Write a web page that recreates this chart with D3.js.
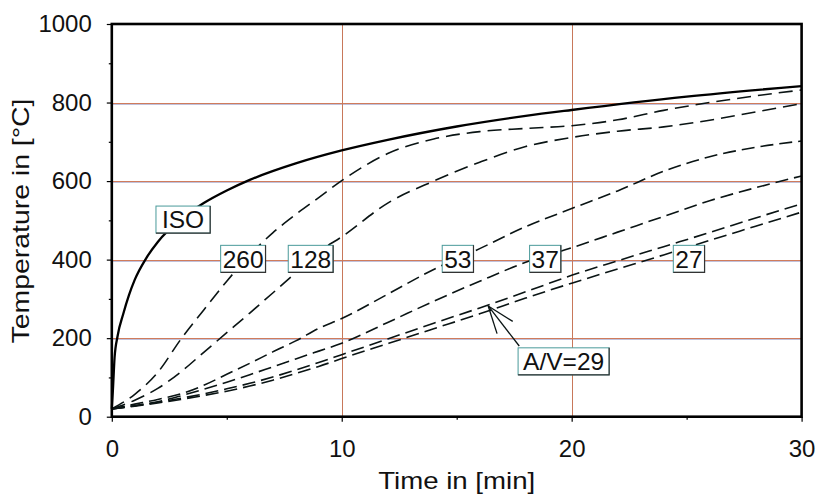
<!DOCTYPE html>
<html lang="en">
<head>
<meta charset="utf-8"/>
<title>Steel temperature under ISO fire</title>
<script src="https://cdn.jsdelivr.net/npm/d3@7/dist/d3.min.js"></script>
<style>
  body { margin: 0; background: #fff; }
  text { font-family: "Liberation Sans", Arial, sans-serif; fill: #111; }
</style>
</head>
<body>
<div id="chart"></div>
<script>
// ISO 834 gas temperature
const isoTime = [0, 0.05, 0.12, 0.25, 0.5, 0.75, 1, 1.5, 2, 3, 4, 5, 6, 8, 10, 12, 15, 18, 20, 25, 30];
const isoTemp = [20, 70, 150, 205, 262, 310, 349, 404, 445, 502, 544, 576, 603, 645, 678, 705, 739, 766, 781, 815, 842];

// steel temperatures for the section factors A/V
const steelTime = [0, 1, 2, 3, 4, 5, 6, 7, 8, 9, 10, 12, 14, 16, 18, 20, 22, 24, 26, 28, 30];
const av260 = [20, 57, 113, 197, 272, 345, 412, 468, 515, 558, 601, 670, 707, 726, 734, 741, 756, 780, 800, 817, 832];
const av128 = [20, 42, 72, 114, 164, 214, 264, 315, 367, 420, 458, 544, 600, 648, 688, 711, 727, 738, 755, 776, 797];
const av53  = [20, 32, 44, 58, 80, 108, 136, 165, 193, 225, 250, 312, 375, 428, 484, 530, 575, 625, 662, 686, 702];
const av37  = [20, 28, 38, 53, 70, 88, 107, 127, 147, 167, 187, 240, 294, 345, 393, 430, 470, 510, 550, 583, 613];
const av29a = [20, 28, 37, 47, 58, 71, 85, 101, 119, 138, 158, 198, 238, 277, 318, 360, 397, 433, 469, 506, 542];
const av29b = [20, 27, 35, 44, 54, 65, 78, 93, 110, 128, 148, 186, 224, 262, 302, 340, 376, 412, 449, 485, 521];

const xTicks = [0, 10, 20, 30];
const xMinor = [5, 15, 25];
const yTicks = [0, 200, 400, 600, 800, 1000];
const yMinor = [100, 300, 500, 700, 900];
const curveLabels = ["ISO", "260", "128", "53", "37", "27", "A/V=29"];

function chart() {
    let svgWidth = 817,
        svgHeight = 495;

    let svg = d3.select("#chart")
                .append("svg")
                .attr("width", svgWidth)
                .attr("height", svgHeight);

    let xScale = d3.scaleLinear().domain([0, 30]).range([111.8, 801.6]),
        yScale = d3.scaleLinear().domain([0, 1000]).range([416.7, 24]);

    // grid, snapped to whole pixels
    let snap = v => Math.round(v) + 0.5;
    let grid = svg.append("g");
    grid.selectAll("line.hgrid2")
        .data(yTicks.slice(1, -1))
        .join("line")
        .attr("class", "hgrid2")
        .attr("x1", xScale(0)).attr("x2", xScale(30))
        .attr("y1", d => snap(yScale(d)) + 1).attr("y2", d => snap(yScale(d)) + 1)
        .attr("stroke", "#a8a8cc").attr("stroke-width", 1)
        .attr("opacity", 0.7);
    grid.selectAll("line.hgrid")
        .data(yTicks.slice(1, -1))
        .join("line")
        .attr("class", "hgrid")
        .attr("x1", xScale(0)).attr("x2", xScale(30))
        .attr("y1", d => snap(yScale(d))).attr("y2", d => snap(yScale(d)))
        .attr("stroke", "#d07c5c").attr("stroke-width", 1);
    grid.selectAll("line.vgrid")
        .data(xTicks.slice(1, -1))
        .join("line")
        .attr("class", "vgrid")
        .attr("x1", d => snap(xScale(d))).attr("x2", d => snap(xScale(d)))
        .attr("y1", yScale(1000)).attr("y2", yScale(0))
        .attr("stroke", "#c8785a").attr("stroke-width", 1);

    let line = d3.line()
                 .x(d => xScale(d[0]))
                 .y(d => yScale(d[1]))
                 .curve(d3.curveMonotoneX);

    let steel = [av260, av128, av53, av37, av29a, av29b];
    svg.append("g")
       .selectAll("path")
       .data(steel)
       .join("path")
       .attr("fill", "none")
       .attr("stroke", "#0a1414")
       .attr("stroke-width", 1.6)
       .attr("stroke-dasharray", (d, i) => i < 2 ? "14,7" : "13,6")
       .attr("d", s => line(steelTime.map((t, i) => [t, s[i]])));

    svg.append("path")
       .datum(isoTime.map((t, i) => [t, isoTemp[i]]))
       .attr("fill", "none")
       .attr("stroke", "#000")
       .attr("stroke-width", 2.3)
       .attr("d", line);

    // arrow for A/V=29
    let tip = [xScale(16.37), yScale(282)],
        tail = [xScale(17.72), yScale(180)],
        ang = Math.atan2(tail[1] - tip[1], tail[0] - tip[0]),
        barb = 29,
        spread = 20 * Math.PI / 180;
    let arrow = svg.append("g")
                   .attr("stroke", "#0a1414")
                   .attr("stroke-width", 1.3);
    arrow.append("line")
         .attr("x1", tip[0]).attr("y1", tip[1])
         .attr("x2", tail[0]).attr("y2", tail[1]);
    [-spread, spread].forEach(a => {
        arrow.append("line")
             .attr("x1", tip[0]).attr("y1", tip[1])
             .attr("x2", tip[0] + barb * Math.cos(ang + a))
             .attr("y2", tip[1] + barb * Math.sin(ang + a));
    });

    // curve labels in boxes
    let anchors = [[3.1, 502, 6], [5.71, 402, 2], [8.65, 402, 2], [15.05, 402, 2],
                   [18.85, 402, 2], [25.1, 402, 2], [19.65, 141, 5]];
    curveLabels.forEach((name, i) => {
        let g = svg.append("g")
                   .attr("transform", `translate(${xScale(anchors[i][0])}, ${yScale(anchors[i][1])})`);
        let rect = g.append("rect").attr("fill", "#fff");
        let txt = g.append("text")
                   .attr("text-anchor", "middle")
                   .attr("dy", "0.36em")
                   .attr("font-size", 24.5)
                   .text(name);
        let w = txt.node().getComputedTextLength() + 2 * anchors[i][2],
            h = 27;
        rect.attr("x", -w / 2).attr("y", -h / 2)
            .attr("width", w).attr("height", h)
            .attr("stroke", "#4a9a9a").attr("stroke-width", 1);
        g.append("path")
         .attr("d", `M${w / 2},${-h / 2}V${h / 2}H${-w / 2}`)
         .attr("fill", "none")
         .attr("stroke", "#333")
         .attr("stroke-width", 1.2);
    });

    // frame
    svg.append("rect")
       .attr("x", xScale(0)).attr("y", yScale(1000))
       .attr("width", xScale(30) - xScale(0))
       .attr("height", yScale(0) - yScale(1000))
       .attr("fill", "none")
       .attr("stroke", "#000")
       .attr("stroke-width", 2.6);

    // axes
    let yAxis = d3.axisLeft(yScale).tickValues(yTicks).tickSize(5).tickPadding(15).tickFormat(d3.format("d")),
        yAxisMinor = d3.axisLeft(yScale).tickValues(yMinor).tickSize(3).tickFormat(""),
        xAxis = d3.axisBottom(xScale).tickValues(xTicks).tickSize(5).tickPadding(18).tickFormat(d3.format("d")),
        xAxisMinor = d3.axisBottom(xScale).tickValues(xMinor).tickSize(3).tickFormat("");

    let gy = svg.append("g").attr("transform", `translate(${xScale(0)}, 0)`).call(yAxis);
    svg.append("g").attr("transform", `translate(${xScale(0)}, 0)`).call(yAxisMinor);
    let gx = svg.append("g").attr("transform", `translate(0, ${yScale(0)})`).call(xAxis);
    svg.append("g").attr("transform", `translate(0, ${yScale(0)})`).call(xAxisMinor);

    svg.selectAll(".domain").remove();
    svg.selectAll(".tick line").attr("stroke", "#000").attr("stroke-width", 1.2);
    [gy, gx].forEach(g => g.selectAll("text")
                          .attr("font-size", 24)
                          .attr("font-family", "Liberation Sans, Arial, sans-serif")
                          .attr("fill", "#111"));

    svg.append("text")
       .attr("x", 456.7)
       .attr("y", 489)
       .attr("text-anchor", "middle")
       .attr("font-size", 24)
       .attr("textLength", 157)
       .attr("lengthAdjust", "spacingAndGlyphs")
       .text("Time in [min]");

    svg.append("text")
       .attr("transform", `translate(29, 221) rotate(-90)`)
       .attr("text-anchor", "middle")
       .attr("font-size", 24)
       .attr("textLength", 245)
       .attr("lengthAdjust", "spacingAndGlyphs")
       .text("Temperature in [°C]");
}

chart();
</script>
</body>
</html>
